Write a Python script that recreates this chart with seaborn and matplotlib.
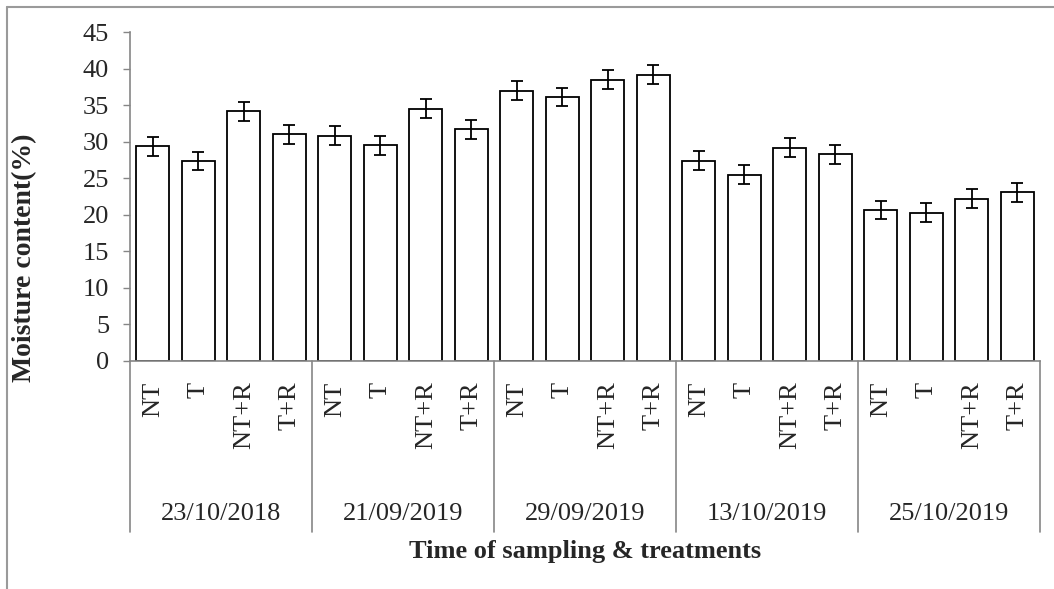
import matplotlib
matplotlib.use("Agg")
import matplotlib.pyplot as plt
import matplotlib.transforms as mtransforms
from matplotlib.lines import Line2D
import seaborn as sns
import pandas as pd
import numpy as np

# ---- data ----
dates = ["23/10/2018", "21/09/2019", "29/09/2019", "13/10/2019", "25/10/2019"]
treatments = ["NT", "T", "NT+R", "T+R"]
moisture = [
    29.4, 27.4, 34.2, 31.0,
    30.8, 29.5, 34.5, 31.7,
    37.0, 36.1, 38.5, 39.2,
    27.4, 25.5, 29.2, 28.3,
    20.6, 20.3, 22.2, 23.1,
]
errors = [
    1.3, 1.25, 1.3, 1.3,
    1.3, 1.3, 1.3, 1.3,
    1.3, 1.25, 1.3, 1.3,
    1.3, 1.25, 1.3, 1.3,
    1.25, 1.3, 1.3, 1.3,
]
y_ticks = [0, 5, 10, 15, 20, 25, 30, 35, 40, 45]

rows = []
for gi, d in enumerate(dates):
    for ti, t in enumerate(treatments):
        k = gi * len(treatments) + ti
        rows.append({"key": f"{d} {t}", "date": d, "treatment": t,
                     "value": moisture[k], "err": errors[k]})
df = pd.DataFrame(rows)

sns.set_theme(style="white")
plt.rcParams["font.family"] = ["Liberation Serif", "DejaVu Serif"]

W, H = 1054, 589
fig = plt.figure(figsize=(W / 100, H / 100), dpi=100)
fig.patch.set_facecolor("white")
ax_l, ax_r, ax_top, ax_bot = 130, 1040, 32.3, 360.7
ax = fig.add_axes([ax_l / W, 1 - ax_bot / H, (ax_r - ax_l) / W, (ax_bot - ax_top) / H])

sns.barplot(data=df, x="key", y="value", order=list(df["key"]), color="white",
            edgecolor="black", linewidth=1.3, width=0.72, errorbar=None,
            saturation=1, ax=ax)

centers = [p.get_x() + p.get_width() / 2 for p in ax.patches]
ax.errorbar(centers, df["value"], yerr=df["err"], fmt="none", ecolor="black",
            elinewidth=1.3, capsize=4.5, capthick=1.3, zorder=5)

ax.set_xlim(-0.5, len(df) - 0.5)
ax.set_ylim(0, 45)
ax.set_yticks(y_ticks)
ax.set_yticklabels([str(v) for v in y_ticks], fontsize=19)
ax.tick_params(axis="y", direction="out", length=5, width=1, color="#868686",
               pad=10, left=True)
ax.set_xticks(range(len(df)))
ax.set_xticklabels(df["treatment"], rotation=90, fontsize=19, va="top")
ax.tick_params(axis="x", length=0, pad=15)

for s in ["top", "right"]:
    ax.spines[s].set_visible(False)
for s in ["left", "bottom"]:
    ax.spines[s].set_color("#868686")
    ax.spines[s].set_linewidth(1.2)

# multi-level category axis: group separators and date labels
trans = mtransforms.blended_transform_factory(ax.transData, ax.transAxes)
ah = ax_bot - ax_top
sep_bottom = -(532 - ax_bot) / ah
date_y = -(514 - ax_bot) / ah
n = len(treatments)
for gi in range(len(dates) + 1):
    xs = gi * n - 0.5
    ax.add_line(Line2D([xs, xs], [0, sep_bottom], transform=trans, color="#868686",
                       linewidth=1.2, clip_on=False))
for gi, d in enumerate(dates):
    ax.text(gi * n + (n - 1) / 2, date_y, d, transform=trans, ha="center",
            va="center", fontsize=19)

ax.set_ylabel("Moisture content(%)", fontsize=20, fontweight="bold")
ax.yaxis.set_label_coords(-(ax_l - 37) / (ax_r - ax_l), (ax_bot - 258) / ah)
ax.set_xlabel("Time of sampling & treatments", fontsize=19, fontweight="bold")
ax.xaxis.set_label_coords(0.5, -(540 - ax_bot) / ah)

# outer chart border (top and left visible)
fig.add_artist(Line2D([7 / W, 1], [1 - 6.5 / H, 1 - 6.5 / H], transform=fig.transFigure,
                      color="#9a9a9a", linewidth=1.5))
fig.add_artist(Line2D([7 / W, 7 / W], [0, 1 - 6.5 / H], transform=fig.transFigure,
                      color="#9a9a9a", linewidth=1.5))

fig.savefig("out.png", dpi=100, facecolor="white")
